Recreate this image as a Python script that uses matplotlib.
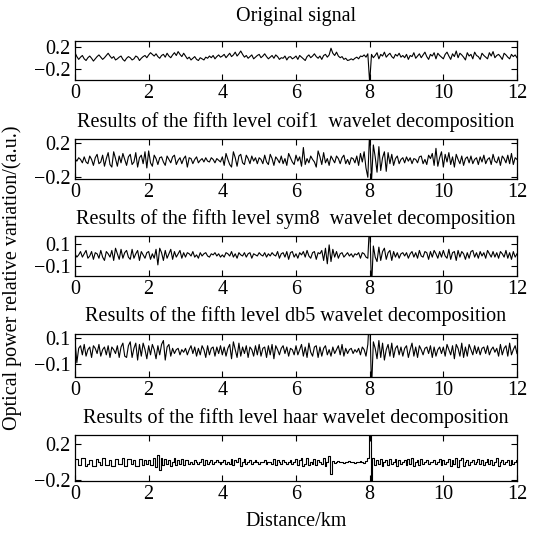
import numpy as np
import matplotlib
matplotlib.use("Agg")
import matplotlib.pyplot as plt

plt.rcParams['font.family'] = ['Liberation Serif', 'DejaVu Serif']
plt.rcParams['font.size'] = 14.5

# values, in units of 0.01 a.u., one sample every 0.05 km
step_km = 0.05

original = [
    9, 2, -3, 1, 4, -2, -5, 0, 3, -1, -6, -2, 2, 5, 1, -3, 0, 4, 8, 3,
    -1, 2, -4, -2, 1, 3, -3, -6, -1, 2, 0, -4, -2, 3, 1, -5, -1, 2, 4, 0,
    5, 9, 6, 3, 7, 2, -1, 4, 6, 1, 8, 3, 0, 5, 9, 4, 11, 6, 2, 8,
    3, -2, 1, -4, -1, 2, -3, -5, 0, -2, -4, 1, -1, 3, 0, 4, -2, 2, 5, 1,
    3, 6, 0, 4, 8, 2, 5, 10, 3, 7, 12, 6, 1, 4, -1, 2, 5, -2, 1, 4,
    6, 0, 3, 7, 2, -2, 1, 4, -1, 5, 2, -3, 0, -1, 3, -4, 1, 2, -2, 0,
    3, -3, 4, 1, -2, -5, 2, 5, 0, 3, 7, 2, -1, 3, -3, 4, 6, 1, 5, 17,
    8, 4, 10, 3, 0, 2, -3, -1, -5, -4, -2, -4, -1, 1, -2, 3, 2, 5, 1, 7,
    -45, 6, 0, 4, 9, -2, 6, 3, 10, 1, 5, 8, 2, -1, 6, 3, 8, 1, 4, 0,
    6, -3, 4, 2, 9, -1, 3, 7, 0, 5, 10, 2, -3, 6, 3, 9, -2, 8, 4, 1,
    -2, 6, 10, 3, -3, 7, 2, 12, 0, 8, 5, 1, -4, 9, 3, 6, -2, 10, 4, 2,
    -3, 8, 4, 1, -2, 9, 3, 11, 0, 4, 6, 2, -3, 8, 5, 1, -2, 6, 2, 5, 0,
]

coif1 = [
    2, -1, 3, 1, -3, 4, -2, -4, 5, 1, -6, 3, 7, -4, -2, 6, -7, 2, 9, -5,
    -8, 10, 2, -7, 5, -3, 8, 1, -6, 4, 7, -5, -2, 9, -8, 3, 6, -4, 10, -9,
    11, -3, -7, 6, 2, -5, 3, 4, -2, -6, 5, 1, -3, 4, 6, -5, 0, 3, -4, 2,
    5, -8, 3, 2, -4, 1, 4, -3, 0, 2, -2, 3, -1, -2, 3, 1, -3, 2, 0, -2,
    4, -6, 8, 1, -5, -8, 10, 3, -7, 5, 7, -3, -5, 6, 2, -4, 5, -1, 3, -4,
    3, 1, -4, 6, -2, -5, 7, 2, -6, 4, 1, -3, 5, -4, 2, -6, 8, 3, -2, -5,
    6, -1, 4, -7, 15, -5, 2, -3, 5, 1, -2, -8, 11, 4, -5, 9, -3, 2, -6, 5,
    1, -3, 5, 2, -4, 3, 6, -4, 1, -5, 3, 2, -3, 5, -6, 8, -2, 10, -9, -20,
    35, -25, 18, 4, -14, 16, -12, 3, 10, -13, 9, -4, 7, -6, 2, 5, -4, 1, 3, -3,
    4, -1, 3, -4, 2, 1, -3, 4, 5, -4, 1, -5, 6, 2, 8, -6, 14, -7, 3, 10,
    -8, 7, -2, 9, -5, 4, -8, 7, 1, -4, 5, -6, 2, 4, -3, 5, -4, 1, 3, -5,
    4, -2, 6, -4, 1, 3, -5, 7, -1, -3, 4, -6, 5, 2, -3, 6, -4, 8, -5, 3, 1,
]

sym8 = [
    1, -2, 0, 3, -2, 1, 4, -3, -1, 3, -4, 2, 1, -3, 4, -2, -5, 3, 1, -2,
    4, -5, 6, 1, -4, 5, -3, 2, 4, -2, -4, 5, -3, 1, 4, -5, 3, 0, -3, 2,
    3, -4, 1, -3, 5, -9, 6, 2, -5, 4, -3, 1, 5, -4, 3, -2, 1, 4, -3, 2,
    -2, 2, 1, -1, 3, -2, 0, -3, 2, -1, 1, 2, -1, -2, 1, 0, 2, -1, 1, -2,
    0, -2, 2, 1, -1, 3, -2, 1, -3, 2, 0, -1, 2, -2, 1, 2, -3, 1, 0, -1,
    2, 0, -1, 2, -2, 1, -1, 2, 0, -1, 3, -3, 1, 2, -2, 3, -4, 2, 3, -2,
    1, -3, 2, 0, 3, -2, 4, -1, -3, 2, 3, -4, 2, 1, 4, -5, 6, -8, 9, -6,
    5, -2, 3, -3, 1, 2, -2, 0, 2, -1, 1, -2, 1, 0, 2, -3, 2, 1, -2, -3,
    30, -30, 8, -2, -6, 7, -5, 3, 6, -4, 2, 4, -5, 3, -2, 2, -3, 1, 2, -1,
    2, -3, 1, 3, -2, 2, -3, 4, -1, -2, 3, 2, -4, 3, -2, 4, 1, -3, 3, -2,
    4, -1, -3, 5, -4, 2, 3, -5, 4, -2, 3, 1, -4, 2, -3, 3, 4, -2, 2, -3,
    3, -1, 2, -3, 4, 1, -2, 3, -2, 2, -3, 3, 1, -2, 4, -3, 2, -4, 3, -2, 1,
]

db5 = [
    8, -9, 2, 4, -3, 5, -4, 1, 3, -5, 4, 2, -2, 5, -4, 1, 3, -3, 4, -5,
    3, 1, -2, 4, -5, 3, 6, -4, -5, 4, 7, -5, 2, 6, -7, 5, -4, 6, 1, -6,
    4, -3, 5, 1, -6, 4, -3, 5, 8, -7, 3, 5, -4, 2, -2, 1, 2, -3, 1, -1,
    2, -3, 1, 4, -2, 3, -4, 2, -3, 4, 1, -5, 4, -3, 2, 3, -4, 3, -2, 4,
    -3, 3, -4, 2, 5, -6, 7, 1, -5, 6, -4, 3, -2, 4, -5, 3, 1, -4, 4, -3,
    5, -4, 2, 3, -5, 4, -3, 5, -6, 4, 1, -3, 2, 4, -2, 3, -4, 2, 1, -3,
    4, -3, 1, 5, -4, 3, -5, 6, -1, -4, 3, 4, -5, 3, -4, 2, 4, -3, 1, -4,
    3, -2, 1, 4, -3, 5, -4, 2, -2, 1, 2, -2, 1, -1, 2, -3, 3, 1, -4, 5,
    30, -30, 7, 2, -6, 8, -5, 6, -7, 1, 5, -4, 6, -5, 2, 4, -3, 3, -4, 2,
    4, -5, 1, 6, -4, 3, -5, 4, 1, -3, 2, 3, -2, 4, -5, 3, -4, 1, 3, -2,
    3, -4, 5, 1, -3, 4, -6, 5, 2, -4, 6, -5, 3, -4, 5, 1, -3, 4, -2, 3,
    -3, 2, 3, -2, 4, -3, 1, 3, -1, 2, -4, 5, -3, 2, 4, -4, 6, -3, 1, 4, -2,
]

haar = [
    3, 3, -3, -3, 4, 4, -4, -2, 2, 2, -4, -4, 3, 0, -3, 4, 4, -3, -3, 2,
    -4, -4, 3, 3, -2, -2, 4, -4, -4, 3, 3, -2, 2, -4, -4, 3, 3, -3, 2, -2,
    2, -3, -3, 4, -5, 8, -9, 5, -3, 3, -2, 2, -4, 0, 4, -3, 2, -2, 3, -3,
    2, 2, -2, 0, -2, 2, 0, -2, 0, 3, -3, 2, -2, 0, 2, -2, 0, 2, 0, -2,
    0, 2, -2, 0, -2, 3, -3, 2, 0, 4, -4, 0, 3, -2, 0, 2, -2, 0, 2, 0,
    -2, 0, 0, 2, -2, 0, 0, -2, 3, -3, 2, 0, -2, 2, 0, -2, 0, 2, -2, 0,
    3, -3, 2, 5, -4, -2, 4, -3, 0, -2, 3, -3, 2, 0, -2, 4, -4, 0, 7, -13,
    1, -1, 0, 1, 0, 0, -1, 0, 0, 1, 0, 0, -1, 0, 0, 1, 0, -1, 1, 5,
    40, -40, 4, -3, 2, -2, 3, -4, 0, 2, -3, 3, -2, 0, 3, -4, 2, -2, 0, 2,
    -3, 3, -2, 4, -4, 0, 2, -3, 3, -2, 0, 2, -2, 0, 0, 2, -2, 0, 3, -3,
    2, -2, 0, 3, -4, 2, -2, 5, -5, 2, 4, -4, 0, 2, -3, 0, 2, -2, 0, 3,
    -2, 2, -3, 0, 3, -2, 2, -3, 0, 4, -4, 0, 2, -2, 0, 2, -3, 2, -2, 0, 2,
]

titles = [
    "Original signal",
    "Results of the fifth level coif1  wavelet decomposition",
    "Results of the fifth level sym8  wavelet decomposition",
    "Results of the fifth level db5 wavelet decomposition",
    "Results of the fifth level haar wavelet decomposition",
]
series = [original, coif1, sym8, db5, haar]
ylims = [(-0.4, 0.3), (-0.22, 0.25), (-0.19, 0.17), (-0.2, 0.13), (-0.21, 0.3)]
yticks = [[-0.2, 0.2], [-0.2, 0.2], [-0.1, 0.1], [-0.1, 0.1], [-0.2, 0.2]]
xticks = [0, 2, 4, 6, 8, 10, 12]

# layout in pixels on the 537x540 canvas: panel box (top, bottom), title centre
W, H = 537, 540
boxes = [(41, 80), (139, 179), (236, 276), (334, 377), (435, 481)]
title_y = [17, 122, 219, 316, 418]
left_px, right_px = 75, 517

fig = plt.figure(figsize=(W / 100, H / 100), dpi=100)

for i, (vals, title, yl, yt) in enumerate(zip(series, titles, ylims, yticks)):
    top, bot = boxes[i]
    ax = fig.add_axes([left_px / W, 1 - bot / H, (right_px - left_px) / W, (bot - top) / H])
    y = np.array(vals) * 0.01
    x = np.arange(len(y)) * step_km
    style = 'steps-mid' if vals is haar else 'default'
    ax.plot(x, y, color='black', lw=0.8, drawstyle=style)
    ax.set_xlim(0, 12)
    ax.set_ylim(*yl)
    ax.set_xticks(xticks)
    ax.set_yticks(yt)
    ax.tick_params(direction='in', top=True, right=True, length=4, width=0.8, pad=3)
    for s in ax.spines.values():
        s.set_linewidth(0.9)
    fig.text((left_px + right_px) / 2 / W, 1 - title_y[i] / H, title,
             ha='center', va='center')

fig.text(0.022, 0.485, "Optical power relative variation/(a.u.)", rotation=90,
         ha='center', va='center')
fig.text((left_px + right_px) / 2 / W, 1 - 522 / H, "Distance/km",
         ha='center', va='center')

fig.savefig("out.png", dpi=100)
